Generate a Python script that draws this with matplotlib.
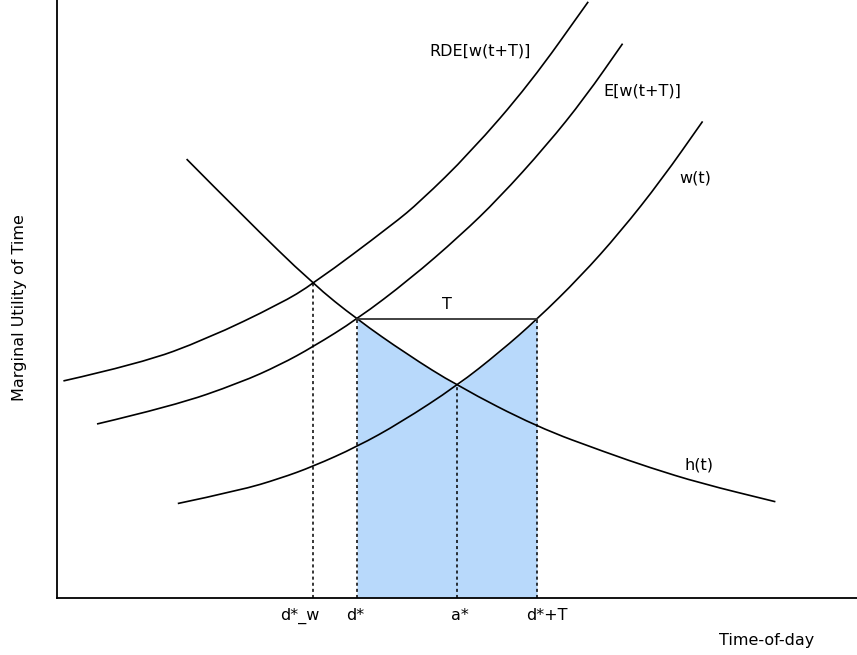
import matplotlib.pyplot as plt
from matplotlib.path import Path
from matplotlib.patches import PathPatch

# curves (time-of-day vs marginal utility, arbitrary units 0-10)
h_t = [1.62, 2.33, 3.20, 3.75, 4.37, 5.00, 6.00, 6.87, 7.41, 8.04, 8.98]
h_u = [7.34, 6.38, 5.25, 4.66, 4.08, 3.55, 2.86, 2.43, 2.18, 1.92, 1.61]

w_t = [1.51, 2.29, 2.79, 3.20, 3.75, 4.29, 5.00, 5.54, 6.00, 6.54, 7.04, 7.56, 8.07]
w_u = [1.58, 1.80, 2.00, 2.20, 2.53, 2.93, 3.55, 4.12, 4.66, 5.37, 6.12, 7.00, 7.97]

e_t = [0.50, 1.45, 2.29, 2.79, 3.20, 3.75, 4.41, 5.04, 5.52, 6.12, 6.60, 7.07]
e_u = [2.91, 3.21, 3.60, 3.90, 4.20, 4.66, 5.33, 6.06, 6.68, 7.57, 8.37, 9.27]

rde_t = [0.08, 1.04, 1.87, 2.79, 3.20, 4.20, 4.54, 5.16, 5.91, 6.64]
rde_u = [3.63, 3.92, 4.33, 4.92, 5.25, 6.25, 6.63, 7.44, 8.60, 9.97]

# key times and the utility level where each marker line stops
tick_names = ['d*_w', 'd*', 'a*', 'd*+T']
tick_t = [3.20, 3.75, 5.00, 6.00]
tick_u = [5.25, 4.66, 3.55, 4.66]

FS = 11.5


def smooth_path(xs, ys):
    # quadratic bezier through segment midpoints, read points act as control points
    verts = [(xs[0], ys[0])]
    codes = [Path.MOVETO]
    for i in range(1, len(xs) - 1):
        mx = (xs[i] + xs[i + 1]) / 2
        my = (ys[i] + ys[i + 1]) / 2
        verts += [(xs[i], ys[i]), (mx, my)]
        codes += [Path.CURVE3, Path.CURVE3]
    verts.append((xs[-1], ys[-1]))
    codes.append(Path.LINETO)
    return Path(verts, codes)


fig = plt.figure(figsize=(8.57, 6.55), dpi=100)
ax = fig.add_axes([57 / 857, 57 / 655, 800 / 857, 598 / 655])
ax.set_xlim(0, 10)
ax.set_ylim(0, 10)

# shaded area: under h(t) from d* to a*, under w(t) from a* to d*+T
d_star, a_star, d_T = tick_t[1], tick_t[2], tick_t[3]
fx = [t for t in h_t if d_star <= t <= a_star] + [t for t in w_t if a_star < t <= d_T]
fy = [u for t, u in zip(h_t, h_u) if d_star <= t <= a_star] + \
     [u for t, u in zip(w_t, w_u) if a_star < t <= d_T]
ax.fill_between(fx, 0, fy, color='#b8d9fb', lw=0, zorder=1)

for t, u in [(h_t, h_u), (w_t, w_u), (e_t, e_u), (rde_t, rde_u)]:
    ax.add_patch(PathPatch(smooth_path(t, u), fill=False, edgecolor='black',
                           lw=1.2, zorder=3, capstyle='butt'))

for t, u in zip(tick_t, tick_u):
    ax.plot([t, t], [0, u], color='black', lw=1.1, ls=(0, (2, 2)), zorder=2)

ax.plot([d_star, d_T], [tick_u[1], tick_u[1]], color='#333333', lw=1.3, zorder=3)

label_x = [3.04, 3.73, 5.04, 6.12]
for name, x in zip(tick_names, label_x):
    ax.text(x, -0.30, name, ha='center', va='center', fontsize=FS, clip_on=False)

ax.text(5.29, 9.14, 'RDE[w(t+T)]', ha='center', va='center', fontsize=FS)
ax.text(7.32, 8.47, 'E[w(t+T)]', ha='center', va='center', fontsize=FS)
ax.text(7.98, 7.02, 'w(t)', ha='center', va='center', fontsize=FS)
ax.text(8.02, 2.22, 'h(t)', ha='center', va='center', fontsize=FS)
ax.text(4.87, 4.90, 'T', ha='center', va='center', fontsize=FS)

fig.text(766.7 / 857, 1 - 640 / 655, 'Time-of-day', ha='center', va='center', fontsize=FS)
fig.text(20 / 857, 1 - 308 / 655, 'Marginal Utility of Time', ha='center', va='center',
         rotation=90, fontsize=FS)

ax.spines['top'].set_visible(False)
ax.spines['right'].set_visible(False)
ax.spines['left'].set_linewidth(1.3)
ax.spines['bottom'].set_linewidth(1.3)
ax.set_xticks([])
ax.set_yticks([])

fig.savefig('out.png', dpi=100)
